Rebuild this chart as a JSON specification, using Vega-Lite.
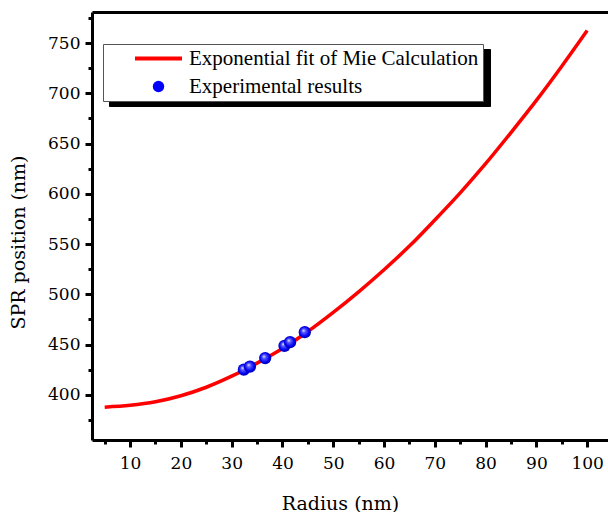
{
  "$schema": "https://vega.github.io/schema/vega-lite/v6.json",
  "width": 516,
  "height": 428,
  "autosize": {"type": "none"},
  "padding": {"left": 92, "top": 12, "right": 0, "bottom": 72},
  "background": "white",
  "config": {
    "view": {"stroke": null},
    "axis": {
      "grid": false,
      "domainColor": "black",
      "domainWidth": 3,
      "tickColor": "black",
      "tickWidth": 3,
      "labelFont": "DejaVu Serif",
      "labelFontSize": 17,
      "labelColor": "black",
      "labelOverlap": false,
      "titleFont": "DejaVu Serif",
      "titleFontSize": 19,
      "titleFontWeight": "normal",
      "titleColor": "black"
    },
    "legend": {
      "labelFont": "Liberation Serif",
      "labelFontSize": 21,
      "labelColor": "black",
      "labelLimit": 0,
      "title": null,
      "orient": "none",
      "padding": 4,
      "symbolOffset": 41,
      "symbolSize": 2209,
      "symbolType": "stroke",
      "labelOffset": 20,
      "rowPadding": 6
    }
  },
  "datasets": {
    "fit": [
      {"r": 5, "spr": 387.7, "series": "Exponential fit of Mie Calculation"},
      {"r": 10, "spr": 389.5, "series": "Exponential fit of Mie Calculation"},
      {"r": 15, "spr": 393, "series": "Exponential fit of Mie Calculation"},
      {"r": 20, "spr": 399, "series": "Exponential fit of Mie Calculation"},
      {"r": 25, "spr": 407.5, "series": "Exponential fit of Mie Calculation"},
      {"r": 30, "spr": 418.5, "series": "Exponential fit of Mie Calculation"},
      {"r": 35, "spr": 431.5, "series": "Exponential fit of Mie Calculation"},
      {"r": 40, "spr": 446, "series": "Exponential fit of Mie Calculation"},
      {"r": 45, "spr": 463, "series": "Exponential fit of Mie Calculation"},
      {"r": 50, "spr": 482, "series": "Exponential fit of Mie Calculation"},
      {"r": 55, "spr": 502.5, "series": "Exponential fit of Mie Calculation"},
      {"r": 60, "spr": 524.5, "series": "Exponential fit of Mie Calculation"},
      {"r": 65, "spr": 548, "series": "Exponential fit of Mie Calculation"},
      {"r": 70, "spr": 574, "series": "Exponential fit of Mie Calculation"},
      {"r": 75, "spr": 601, "series": "Exponential fit of Mie Calculation"},
      {"r": 80, "spr": 630, "series": "Exponential fit of Mie Calculation"},
      {"r": 85, "spr": 661, "series": "Exponential fit of Mie Calculation"},
      {"r": 90, "spr": 693, "series": "Exponential fit of Mie Calculation"},
      {"r": 95, "spr": 727, "series": "Exponential fit of Mie Calculation"},
      {"r": 100, "spr": 762.5, "series": "Exponential fit of Mie Calculation"}
    ],
    "exp": [
      {"r": 32.4, "spr": 425, "series": "Experimental results"},
      {"r": 33.6, "spr": 428, "series": "Experimental results"},
      {"r": 36.6, "spr": 436.5, "series": "Experimental results"},
      {"r": 40.4, "spr": 448.7, "series": "Experimental results"},
      {"r": 41.5, "spr": 452.4, "series": "Experimental results"},
      {"r": 44.4, "spr": 462.3, "series": "Experimental results"}
    ]
  },
  "layer": [
    {
      "data": {"name": "fit"},
      "mark": {"type": "line", "strokeWidth": 3.5, "interpolate": "monotone"},
      "encoding": {
        "x": {
          "field": "r", "type": "quantitative",
          "scale": {"domain": [2.5, 104.1], "nice": false, "zero": false},
          "axis": {
            "orient": "bottom",
            "title": "Radius (nm)",
            "values": [5, 10, 15, 20, 25, 30, 35, 40, 45, 50, 55, 60, 65, 70, 75, 80, 85, 90, 95, 100],
            "labelExpr": "datum.value % 10 === 0 ? datum.label : ''",
            "tickSize": {"condition": {"test": "datum.value % 10 === 0", "value": 7}, "value": 4},
            "labelPadding": 8,
            "labelFlush": false,
            "titleX": 248,
            "titleY": 69,
            "titleBaseline": "alphabetic"
          }
        },
        "y": {
          "field": "spr", "type": "quantitative",
          "scale": {"domain": [355, 781], "nice": false, "zero": false},
          "axis": {
            "orient": "left",
            "title": "SPR position (nm)",
            "values": [375, 400, 425, 450, 475, 500, 525, 550, 575, 600, 625, 650, 675, 700, 725, 750, 775],
            "labelExpr": "datum.value % 50 === 0 ? datum.label : ''",
            "tickSize": {"condition": {"test": "datum.value % 50 === 0", "value": 7}, "value": 4},
            "labelPadding": 5,
            "labelFlush": false,
            "titleX": -74,
            "titleY": 230,
            "titleAlign": "center",
            "titleBaseline": "middle",
            "titleAngle": -90
          }
        },
        "color": {
          "field": "series", "type": "nominal",
          "scale": {"domain": ["Exponential fit of Mie Calculation", "Experimental results"], "range": ["#ff0000", "#0000ff"]},
          "legend": {
            "legendX": 11,
            "legendY": 32,
            "zindex": 2,
            "strokeColor": "#555555",
            "fillColor": "white",
            "encode": {
              "symbols": {
                "update": {
                  "shape": {"signal": "datum.value === 'Experimental results' ? 'circle' : 'stroke'"},
                  "size": {"signal": "datum.value === 'Experimental results' ? 130 : 2209"},
                  "strokeWidth": {"signal": "datum.value === 'Experimental results' ? 0 : 4"},
                  "stroke": {"signal": "datum.value === 'Experimental results' ? 'transparent' : '#ff0000'"},
                  "fill": {"signal": "datum.value === 'Experimental results' ? {gradient: 'radial', x1: 0.38, y1: 0.35, r1: 0, x2: 0.5, y2: 0.5, r2: 0.55, stops: [{offset: 0, color: '#ffffff'}, {offset: 0.25, color: '#6060ff'}, {offset: 0.7, color: '#0000f0'}, {offset: 1, color: '#0000a0'}]} : 'transparent'"},
                  "opacity": {"value": 1}
                }
              }
            }
          }
        }
      }
    },
    {
      "data": {"name": "exp"},
      "mark": {
        "type": "point",
        "shape": "circle",
        "filled": true,
        "opacity": 1,
        "fill": {
          "gradient": "radial",
          "x1": 0.38, "y1": 0.35, "r1": 0,
          "x2": 0.5, "y2": 0.5, "r2": 0.55,
          "stops": [
            {"offset": 0, "color": "#ffffff"},
            {"offset": 0.25, "color": "#6060ff"},
            {"offset": 0.7, "color": "#0000f0"},
            {"offset": 1, "color": "#0000a0"}
          ]
        }
      },
      "encoding": {
        "x": {
          "field": "r", "type": "quantitative",
          "axis": {"orient": "top", "ticks": false, "labels": false, "title": null, "domain": true}
        },
        "y": {
          "field": "spr", "type": "quantitative",
          "axis": {"orient": "right", "ticks": false, "labels": false, "title": null, "domain": false}
        },
        "color": {"field": "series", "type": "nominal"},
        "size": {
          "field": "series", "type": "nominal",
          "scale": {"domain": ["Experimental results", "Exponential fit of Mie Calculation"], "range": [150, 150]},
          "legend": {
            "legendX": 17,
            "legendY": 37,
            "zindex": 1,
            "strokeColor": "black",
            "fillColor": "black",
            "labelColor": "black",
            "labelExpr": "''",
            "symbolOffset": 332,
            "symbolFillColor": "black",
            "symbolStrokeColor": "black"
          }
        }
      }
    }
  ],
  "resolve": {"axis": {"x": "independent", "y": "independent"}}
}
